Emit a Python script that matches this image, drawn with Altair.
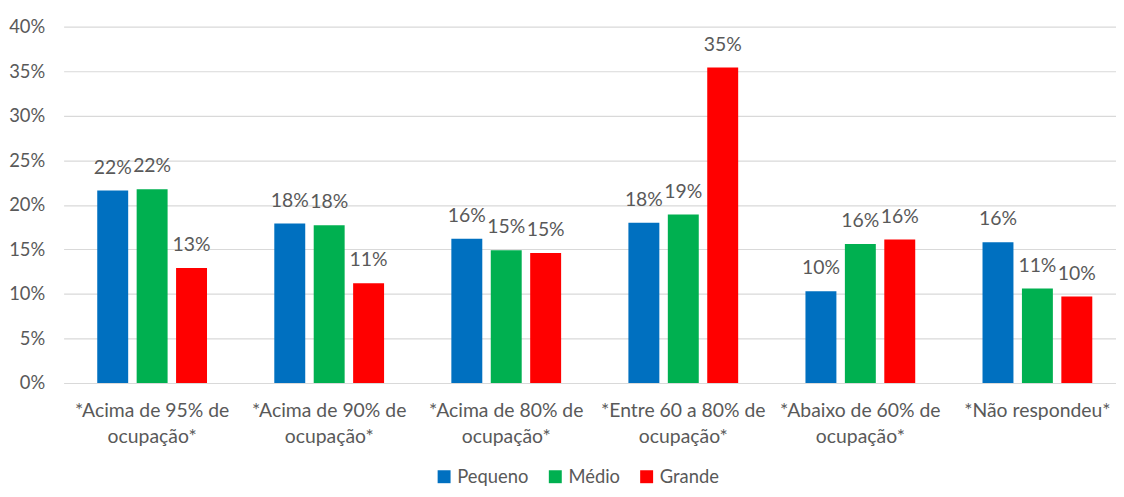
import altair as alt
import pandas as pd

categories = [
    "*Acima de 95% de|ocupação*",
    "*Acima de 90% de|ocupação*",
    "*Acima de 80% de|ocupação*",
    "*Entre 60 a 80% de|ocupação*",
    "*Abaixo de 60% de|ocupação*",
    "*Não respondeu*",
]
series = ["Pequeno", "Médio", "Grande"]
pequeno = [0.216, 0.179, 0.162, 0.180, 0.103, 0.158]
medio = [0.2175, 0.177, 0.149, 0.189, 0.156, 0.106]
grande = [0.129, 0.112, 0.146, 0.354, 0.161, 0.097]
colors = ["#0070C0", "#00B050", "#FF0000"]

rows = []
for name, vals in zip(series, [pequeno, medio, grande]):
    for c, v in zip(categories, vals):
        rows.append({"cat": c, "serie": name, "value": v})
df = pd.DataFrame(rows)

FONT = "Lato"
GRAY = "#595959"

x = alt.X(
    "cat:N",
    sort=categories,
    scale=alt.Scale(paddingInner=0.38, paddingOuter=0.19, range=[0, 1070]),
    axis=alt.Axis(
        title=None,
        labelAngle=0,
        labelExpr="split(datum.label, '|')",
        labelFont=FONT,
        labelFontSize=19.5,
        labelColor=GRAY,
        labelPadding=19,
        labelLineHeight=26,
        labelLimit=300,
        ticks=False,
        domain=False,
        grid=False,
    ),
)
xoff = alt.XOffset("serie:N", sort=series, scale=alt.Scale(paddingInner=0.215, paddingOuter=0))
y = alt.Y(
    "value:Q",
    scale=alt.Scale(domain=[0, 0.4], nice=False),
    axis=alt.Axis(
        title=None,
        format=".0%",
        values=[0, 0.05, 0.1, 0.15, 0.2, 0.25, 0.3, 0.35, 0.4],
        labelFont=FONT,
        labelFontSize=18.5,
        labelColor=GRAY,
        labelPadding=19,
        ticks=False,
        domain=False,
        gridColor="#d9d9d9",
        gridWidth=1.2,
    ),
)
color = alt.Color(
    "serie:N",
    sort=series,
    scale=alt.Scale(domain=series, range=colors),
    legend=alt.Legend(
        title=None,
        orient="none",
        direction="horizontal",
        legendX=374,
        legendY=444,
        symbolType="square",
        symbolSize=170,
        symbolStrokeWidth=0,
        labelFont=FONT,
        labelFontSize=18.5,
        labelColor=GRAY,
        labelOffset=4,
        columnPadding=17,
    ),
)

bars = alt.Chart(df).mark_bar().encode(x=x, xOffset=xoff, y=y, color=color)
labels = alt.Chart(df).mark_text(
    baseline="alphabetic", dy=-17, font=FONT, fontSize=19.5, color=GRAY
).encode(x=x, xOffset=xoff, y=y, text=alt.Text("value:Q", format=".0%"))

chart = (
    alt.layer(bars, labels)
    .properties(
        width=1058,
        height=359,
        autosize=alt.AutoSizeParams(type="none"),
        padding={"left": 56, "top": 17, "right": 2, "bottom": 105},
    )
    .configure_view(stroke=None)
)

chart.save("out.html", embed_options={"renderer": "svg", "actions": False})
